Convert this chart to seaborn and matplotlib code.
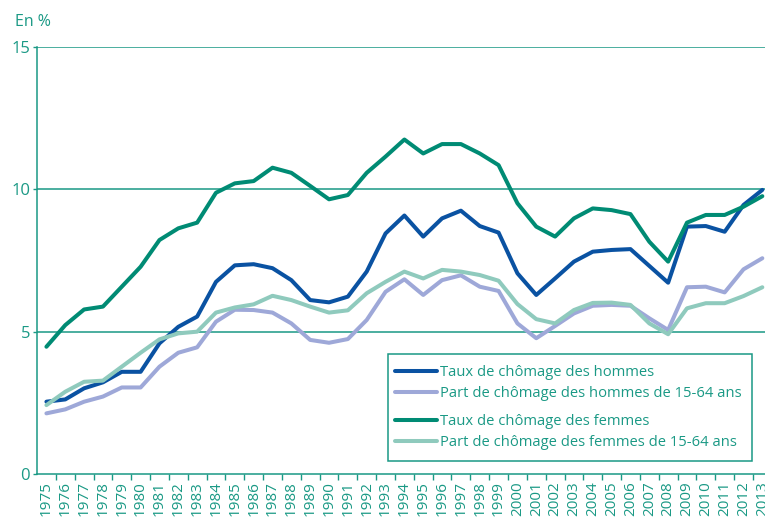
import numpy as np
import pandas as pd
import matplotlib
matplotlib.use("Agg")
import matplotlib.pyplot as plt
import seaborn as sns
from matplotlib.lines import Line2D
from matplotlib.patches import Rectangle

years = list(range(1975, 2014))

taux_hommes = [2.54, 2.62, 3.01, 3.22, 3.59, 3.59, 4.59, 5.17, 5.53, 6.75,
               7.33, 7.37, 7.23, 6.81, 6.11, 6.03, 6.23, 7.11, 8.45, 9.08,
               8.34, 8.98, 9.25, 8.71, 8.48, 7.05, 6.29, 6.87, 7.46, 7.81,
               7.87, 7.90, 7.31, 6.72, 8.69, 8.71, 8.51, 9.45, 9.98]
part_hommes = [2.13, 2.27, 2.54, 2.72, 3.04, 3.04, 3.77, 4.26, 4.45, 5.35,
               5.77, 5.76, 5.67, 5.29, 4.71, 4.61, 4.74, 5.41, 6.40, 6.84,
               6.29, 6.81, 6.98, 6.58, 6.43, 5.29, 4.77, 5.20, 5.64, 5.91,
               5.94, 5.91, 5.47, 5.06, 6.56, 6.58, 6.38, 7.19, 7.58]
taux_femmes = [4.47, 5.23, 5.78, 5.88, 6.58, 7.28, 8.22, 8.63, 8.83, 9.88,
               10.21, 10.29, 10.76, 10.58, 10.12, 9.65, 9.80, 10.58, 11.15, 11.75,
               11.26, 11.59, 11.59, 11.26, 10.85, 9.51, 8.69, 8.34, 8.98, 9.33,
               9.27, 9.13, 8.16, 7.46, 8.83, 9.10, 9.10, 9.39, 9.76]
part_femmes = [2.42, 2.89, 3.24, 3.28, 3.77, 4.26, 4.73, 4.94, 5.00, 5.67,
               5.85, 5.96, 6.26, 6.11, 5.88, 5.67, 5.75, 6.35, 6.75, 7.11,
               6.87, 7.17, 7.11, 6.99, 6.79, 5.97, 5.44, 5.29, 5.76, 6.01,
               6.02, 5.94, 5.29, 4.91, 5.82, 6.00, 6.00, 6.25, 6.56]

labels = ["Taux de chômage des hommes",
          "Part de chômage des hommes de 15-64 ans",
          "Taux de chômage des femmes",
          "Part de chômage des femmes de 15-64 ans"]
colors = ["#0a52a2", "#9ea8d8", "#008b74", "#8fcabd"]
teal = "#1a9985"

sns.set_style("white")
plt.rcParams['font.family'] = ['Open Sans', 'DejaVu Sans']

idx = np.arange(len(years))
frames = []
for lab, vals in zip(labels, [taux_hommes, part_hommes, taux_femmes, part_femmes]):
    frames.append(pd.DataFrame({"x": idx, "v": vals, "serie": lab}))
df = pd.concat(frames, ignore_index=True)

W, H = 765, 517
fig = plt.figure(figsize=(W / 100, H / 100), dpi=100)
x0, x1 = 37, 37 + 39 * 18.84
y0, y1 = 474, 47
ax = fig.add_axes([x0 / W, (H - y0) / H, (x1 - x0) / W, (y0 - y1) / H])

pal = dict(zip(labels, colors))
sns.lineplot(data=df, x="x", y="v", hue="serie", hue_order=labels, palette=pal,
             linewidth=2.9, ax=ax, legend=False, estimator=None, sort=False)

ax.set_xlim(-0.5, len(years) - 0.5)
ax.set_ylim(0, 15)
ax.set_yticks([0, 5, 10, 15])
ax.set_yticklabels(["0", "5", "10", "15"])
ax.set_xticks(idx)
ax.set_xticklabels([str(y) for y in years], rotation=90)
ax.set_xticks(idx[:-1] + 0.5, minor=True)
ax.tick_params(axis="x", which="major", length=0, pad=5, labelsize=11, labelcolor=teal)
ax.tick_params(axis="x", which="minor", length=4, width=1, color=teal, direction="out", bottom=True)
ax.tick_params(axis="y", which="major", length=3, width=1, color=teal, labelsize=12,
               labelcolor=teal, pad=2, left=True)
ax.set_xlabel("")
ax.set_ylabel("")
for y in [5, 10, 15]:
    ax.axhline(y, color=teal, linewidth=1.1, zorder=0.5)
for s in ["top", "right"]:
    ax.spines[s].set_visible(False)
for s in ["left", "bottom"]:
    ax.spines[s].set_color(teal)
    ax.spines[s].set_linewidth(1.1)

fig.text(15 / W, (H - 22) / H, "En %", color=teal, fontsize=11.5, va="center", ha="left")

# legend box
def ax_coords(px, py):
    return ((px - x0) / (x1 - x0), (y0 - py) / (y0 - y1))

bx0, by0 = ax_coords(388, 461)
bx1, by1 = ax_coords(752, 354)
ax.add_patch(Rectangle((bx0, by0), bx1 - bx0, by1 - by0, transform=ax.transAxes,
                       facecolor="white", edgecolor=teal, linewidth=1.1, zorder=5))

def make_leg(labs, cols, top_px):
    handles = [Line2D([], [], color=c, linewidth=2.9) for c in cols]
    ax_x, ax_y = ax_coords(395, top_px)
    leg = ax.legend(handles, labs, loc="upper left", bbox_to_anchor=(ax_x, ax_y),
                    frameon=False, fontsize=10.6, handlelength=2.85, handletextpad=0.2,
                    labelspacing=0.42, borderpad=0, borderaxespad=0)
    for t in leg.get_texts():
        t.set_color(teal)
    leg.set_zorder(6)
    return leg

leg1 = make_leg(labels[:2], colors[:2], 365)
ax.add_artist(leg1)
leg2 = make_leg(labels[2:], colors[2:], 414)

fig.savefig("out.png", dpi=100)
